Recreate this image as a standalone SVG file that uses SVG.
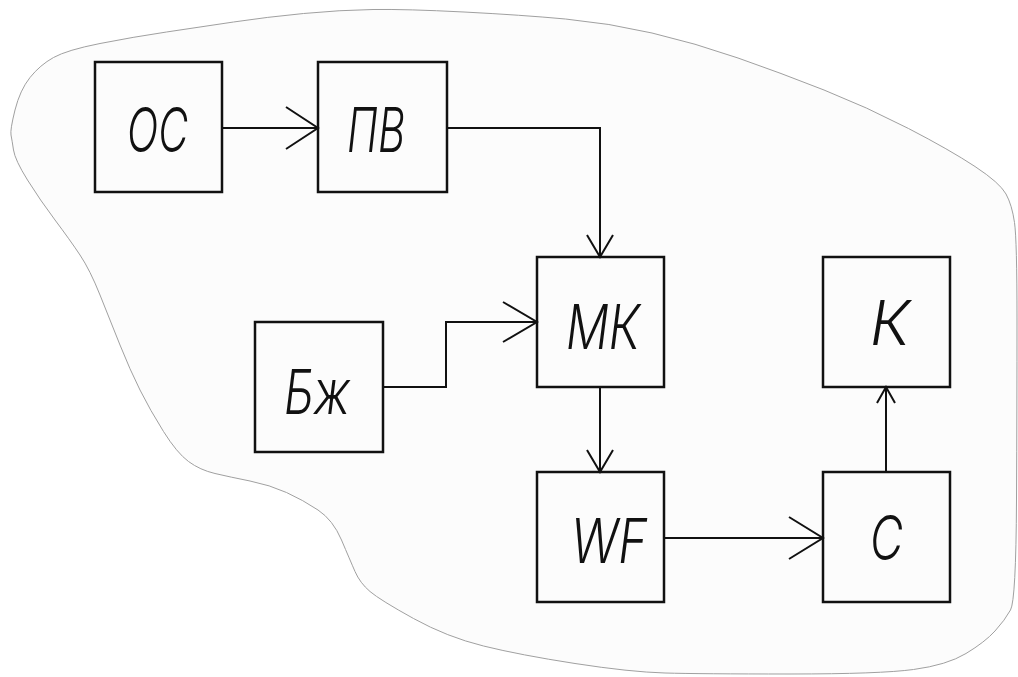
<svg xmlns="http://www.w3.org/2000/svg" width="1018" height="677" viewBox="0 0 1018 677">
  <style>
    .area { fill: #fcfcfc; stroke: #a0a0a0; stroke-width: 1; }
    .box { fill: none; stroke: #111; stroke-width: 2.5; }
    .wire { fill: none; stroke: #111; stroke-width: 2; stroke-linejoin: miter; }
    .head { fill: none; stroke: #111; stroke-width: 2; stroke-linejoin: miter; }
    .lbl { font-family: Inter, "DejaVu Sans", "Liberation Sans", sans-serif; font-weight: 300; font-style: italic; font-size: 62px; fill: #111; }
  </style>

  <rect width="1018" height="677" fill="#ffffff"/>

  <!-- free-form boundary of the system -->
  <path class="area" d="M11,135 Q10,130 15,110 Q20,90 30,77.5 Q40,65 53.5,57.5 Q67,50 100,43.5 Q133,37 166.5,32 Q200,27 233.5,22 Q267,17 303.5,13.5 Q340,10 373,9.5 Q406,9 464,12 Q522,15 565.5,19 Q609,23 652,33 Q695,43 738,58 Q781,73 824,90 Q867,107 908.5,128.5 Q950,150 975,166.5 Q1000,183 1006,194 Q1012,205 1014.5,222.5 Q1017,240 1017,320 Q1017,400 1016.5,500 Q1016,600 1010.5,610 Q1005,620 995,631 Q985,642 966,653.5 Q947,665 913.5,669.5 Q880,674 790,674 Q700,674 665,673 Q630,672 575,663.5 Q520,655 483.5,646 Q447,637 413.5,618.5 Q380,600 370,591.5 Q360,583 355,571.5 Q350,560 341.5,540 Q333,520 318,510 Q303,500 286.5,492.5 Q270,485 250,481 Q230,477 215,473.5 Q200,470 188.5,461.5 Q177,453 163.5,431.5 Q150,410 140,390 Q130,370 120,345 Q110,320 100,295 Q90,270 80,255 Q70,240 55,220 Q40,200 27.5,180 Q15,160 13.5,150 Q12,140 11,135 Z"/>

  <!-- connectors -->
  <g id="connectors">
    <line class="wire" x1="222" y1="128" x2="318" y2="128"/>
    <polyline class="head" points="286,107 318,128 286,149"/>

    <polyline class="wire" points="447,128 600,128 600,257"/>
    <polyline class="head" points="587,235 600,257 613,235"/>

    <polyline class="wire" points="383,387 446,387 446,322 537,322"/>
    <polyline class="head" points="503,302 537,322 503,342"/>

    <line class="wire" x1="600" y1="387" x2="600" y2="472"/>
    <polyline class="head" points="587,450 600,472 613,450"/>

    <line class="wire" x1="664" y1="538" x2="823" y2="538"/>
    <polyline class="head" points="789,517 823,538 789,559"/>

    <line class="wire" x1="886" y1="472" x2="886" y2="387"/>
    <polyline class="head" points="877,403 886,387 895,403"/>
  </g>

  <!-- blocks -->
  <g id="node-OS">
    <rect class="box" x="95" y="62" width="127" height="130"/>
    <text class="lbl" x="127" y="152" textLength="61" lengthAdjust="spacingAndGlyphs">ОС</text>
  </g>
  <g id="node-PV">
    <rect class="box" x="318" y="62" width="129" height="130"/>
    <text class="lbl" x="347" y="152" textLength="58" lengthAdjust="spacingAndGlyphs">ПВ</text>
  </g>
  <g id="node-MK">
    <rect class="box" x="537" y="257" width="127" height="130"/>
    <text class="lbl" x="566" y="349" textLength="74" lengthAdjust="spacingAndGlyphs">МК</text>
  </g>
  <g id="node-Bzh">
    <rect class="box" x="255" y="322" width="128" height="130"/>
    <text class="lbl" x="284" y="414" textLength="66" lengthAdjust="spacingAndGlyphs">Бж</text>
  </g>
  <g id="node-WF">
    <rect class="box" x="537" y="472" width="127" height="130"/>
    <text class="lbl" x="571" y="563" textLength="76" lengthAdjust="spacingAndGlyphs">WF</text>
  </g>
  <g id="node-S">
    <rect class="box" x="823" y="472" width="127" height="130"/>
    <text class="lbl" x="870" y="560" textLength="33" lengthAdjust="spacingAndGlyphs">С</text>
  </g>
  <g id="node-K">
    <rect class="box" x="823" y="257" width="127" height="130"/>
    <text class="lbl" x="870" y="345" textLength="40" lengthAdjust="spacingAndGlyphs">К</text>
  </g>
</svg>
